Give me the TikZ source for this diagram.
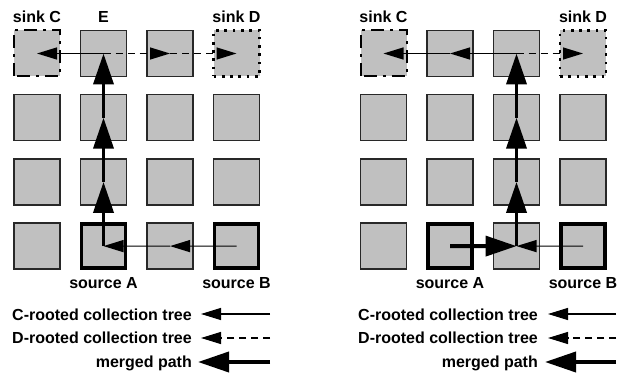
\documentclass[tikz,border=0pt]{standalone}
\usepackage{fontspec}
\setmainfont{Liberation Sans}
\usetikzlibrary{arrows.meta}
\definecolor{sqgray}{RGB}{192,192,192}
\definecolor{sqline}{RGB}{40,40,40}
\begin{document}
\begin{tikzpicture}[x=1pt,y=-1pt,
  sq/.style={draw=sqline, line width=1.3pt, fill=sqgray, minimum size=46pt, inner sep=0pt, outer sep=0pt},
  srcbox/.style={sq, draw=black, line width=3.6pt, minimum size=44pt},
  sinkcbox/.style={sq, draw=black, line width=2pt, dash pattern=on 13pt off 6pt on 3pt off 6pt, dash phase=-3pt},
  sinkdbox/.style={sq, draw=black, line width=2.6pt, dash pattern=on 2.7pt off 5.6pt},
  lbl/.style={font=\fontsize{16pt}{19pt}\selectfont\bfseries, inner sep=0pt, anchor=base},
  leg/.style={font=\fontsize{16pt}{19pt}\selectfont\bfseries, inner sep=0pt, anchor=base east},
  tarr/.style={line width=1.2pt, -{Triangle[length=20pt,width=12pt]}},
  darr/.style={tarr, dash pattern=on 7pt off 5pt},
  karr/.style={line width=3.8pt, -{Triangle[length=31pt,width=20pt]}}
]
\useasboundingbox (0,0) rectangle (626,374);

% ---------- left grid ----------
\foreach \c/\r in {2/1,3/1,1/2,2/2,3/2,4/2,1/3,2/3,3/3,4/3,1/4,3/4}
  \node[sq] (a\c\r) at ({37+66.5*(\c-1)},{53.5+64.2*(\r-1)}) {};
\node[sinkcbox] (a11) at (37,53.5) {};
\node[sinkdbox] (a41) at (236.5,53.5) {};
\node[srcbox] (a24) at (103.5,246.1) {};
\node[srcbox] (a44) at (236.5,246.1) {};

\node[lbl] (lasc) at (37,23) {sink C};
\node[lbl] (lae) at (103.5,23) {E};
\node[lbl] (lasd) at (236.5,23) {sink D};
\node[lbl] (lasa) at (103.5,288) {source A};
\node[lbl] (lasb) at (236.5,288) {source B};

\draw[tarr] (a21.center) -- (a11.center);
\draw[darr] (a21.center) -- (a31.center);
\draw[darr] (a31.center) -- (a41.center);
\draw[tarr] (a44.center) -- (a34.center);
\draw[tarr] (a34.center) -- (a24.center);
\draw[karr] (a24.center) -- (a23.center);
\draw[karr] (a23.center) -- (a22.center);
\draw[karr] (a22.center) -- (a21.center);

% ---------- right grid ----------
\foreach \c/\r in {2/1,3/1,1/2,2/2,3/2,4/2,1/3,2/3,3/3,4/3,1/4,3/4}
  \node[sq] (b\c\r) at ({383.5+66.5*(\c-1)},{53.5+64.2*(\r-1)}) {};
\node[sinkcbox] (b11) at (383.5,53.5) {};
\node[sinkdbox] (b41) at (583,53.5) {};
\node[srcbox] (b24) at (450,246.1) {};
\node[srcbox] (b44) at (583,246.1) {};

\node[lbl] (lbsc) at (383.5,23) {sink C};
\node[lbl] (lbsd) at (583,23) {sink D};
\node[lbl] (lbsa) at (450,288) {source A};
\node[lbl] (lbsb) at (583,288) {source B};

\draw[tarr] (b31.center) -- (b21.center);
\draw[tarr] (b21.center) -- (b11.center);
\draw[darr] (b31.center) -- (b41.center);
\draw[tarr] (b44.center) -- (b34.center);
\draw[karr] (b24.center) -- (b34.center);
\draw[karr] (b34.center) -- (b33.center);
\draw[karr] (b33.center) -- (b32.center);
\draw[karr] (b32.center) -- (b31.center);

% ---------- left legend ----------
\node[leg] (lgac) at (192,320) {C-rooted collection tree};
\node[leg] (lgad) at (192,343.5) {D-rooted collection tree};
\node[leg] (lgam) at (192,367.5) {merged path};
\coordinate (lac1) at (270,314);  \coordinate (lac2) at (201,314);
\coordinate (lad1) at (270,338);  \coordinate (lad2) at (201,338);
\coordinate (lam1) at (270,362);  \coordinate (lam2) at (198,362);
\draw[tarr] (lac1) -- (lac2);
\draw[darr] (lad1) -- (lad2);
\draw[karr] (lam1) -- (lam2);

% ---------- right legend ----------
\node[leg] (lgbc) at (538,320) {C-rooted collection tree};
\node[leg] (lgbd) at (538,343.5) {D-rooted collection tree};
\node[leg] (lgbm) at (538,367.5) {merged path};
\coordinate (lbc1) at (616,314);  \coordinate (lbc2) at (548,314);
\coordinate (lbd1) at (616,338);  \coordinate (lbd2) at (548,338);
\coordinate (lbm1) at (616,362);  \coordinate (lbm2) at (545,362);
\draw[tarr] (lbc1) -- (lbc2);
\draw[darr] (lbd1) -- (lbd2);
\draw[karr] (lbm1) -- (lbm2);
\end{tikzpicture}
\end{document}
